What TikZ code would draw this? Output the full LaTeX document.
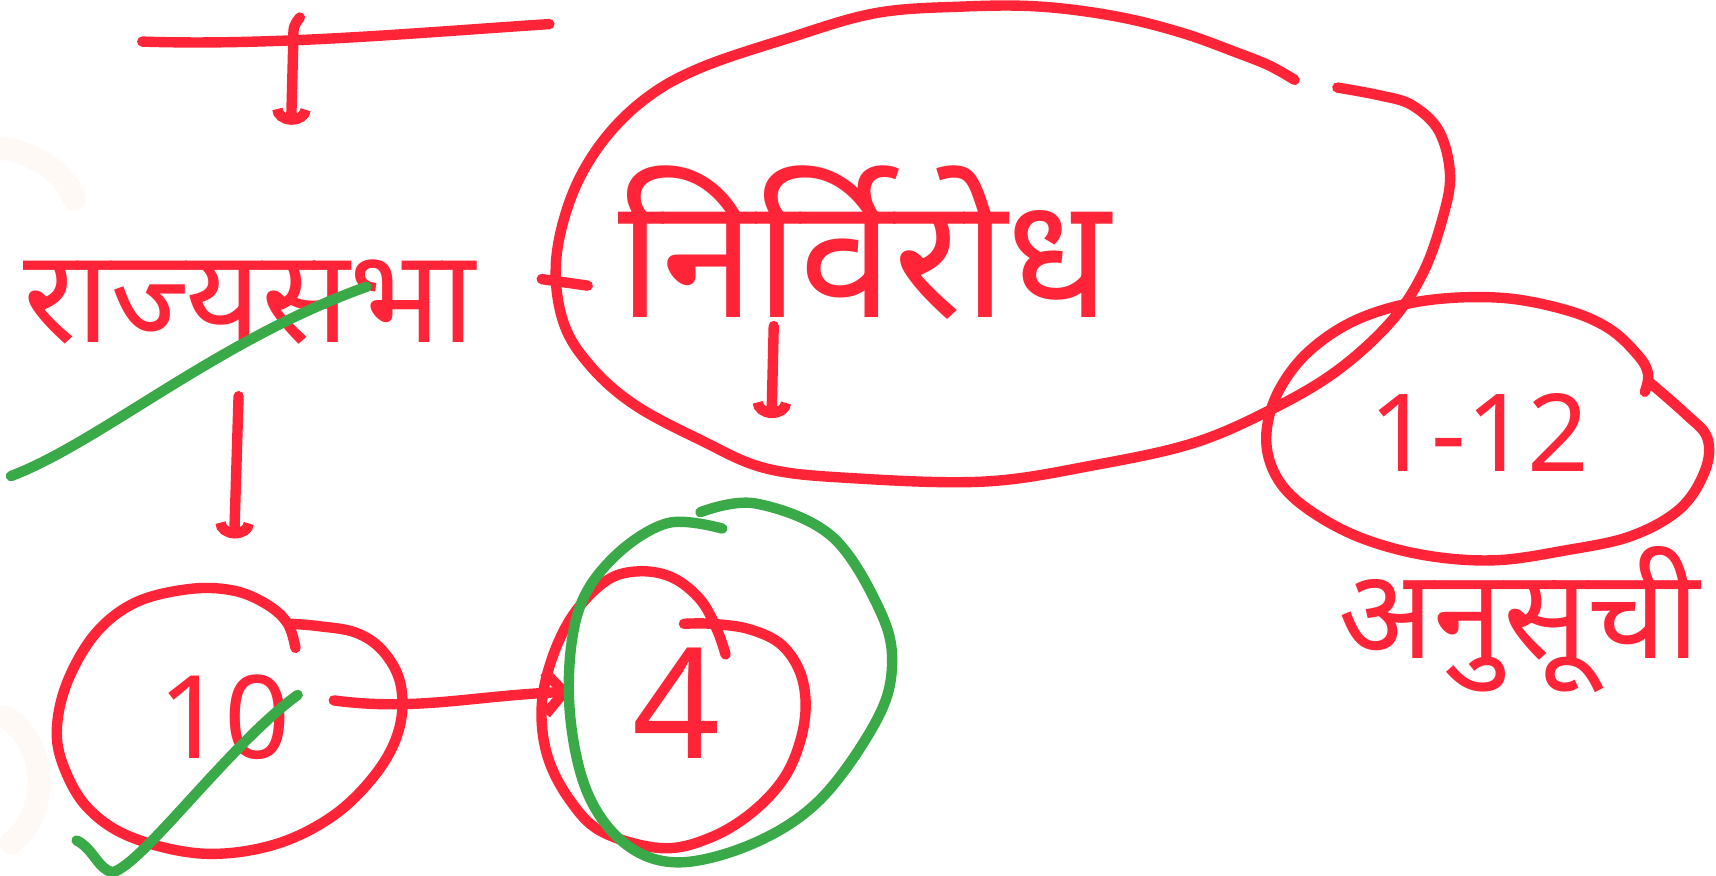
\documentclass[tikz,border=0pt]{standalone}
\usepackage{fontspec}
\setmainfont{Noto Sans}
\newfontfamily\deva[Script=Devanagari]{Noto Sans}
\usetikzlibrary{arrows.meta}
\definecolor{inkred}{RGB}{255,36,56}
\definecolor{inkgreen}{RGB}{58,170,72}
\definecolor{faintpeach}{RGB}{255,249,246}
\tikzset{
  redink/.style={draw=inkred, line width=2.7pt, line cap=round, line join=round},
  greenink/.style={draw=inkgreen, line width=2.7pt, line cap=round, line join=round},
  cuptip/.style={-{Arc Barb[length=4pt,width=10pt]}},
  barbtip/.style={-{Straight Barb[length=5pt,width=11pt]}},
  lbl/.style={text=inkred, inner sep=0pt, anchor=center},
}
\begin{document}
\begin{tikzpicture}[x=0.01cm,y=-0.01cm]
\fill[white] (0,0) rectangle (1568,800);
\useasboundingbox (0,0) rectangle (1568,800);

% faint background marks
\draw[faintpeach, line width=6pt, line cap=round] (0,135) .. controls (35,140) and (60,160) .. (68,182);
\draw[faintpeach, line width=6pt, line cap=round] (5,655) .. controls (45,680) and (45,745) .. (10,770);

% text nodes
\node[lbl, font=\deva\fontsize{34}{40}\selectfont] (rs) at (228,276) {राज्यसभा};
\node[lbl, font=\deva\fontsize{44}{52}\selectfont] (nr) at (790,222) {निर्विरोध};
\node[lbl, font=\fontsize{30}{36}\selectfont] (ten) at (205,655) {10};
\node[lbl, font=\fontsize{40}{46}\selectfont] (four) at (618,643) {4};
\node[lbl, font=\fontsize{28}{34}\selectfont] (sched) at (1352,395) {1-12};
\node[lbl, font=\deva\fontsize{32.5}{38}\selectfont] (anu) at (1388,566) {अनुसूची};

% top line and arrow
\coordinate (tlL) at (130,38);
\coordinate (tlR) at (502,22);
\draw[redink] (tlL) .. controls (250,42) and (380,30) .. (tlR);
\coordinate (a0s) at (274,16);
\coordinate (a0m) at (268,38);
\coordinate (a0e) at (266,114);
\draw[redink, cuptip] (a0s) .. controls (268,24) .. (a0m) -- (a0e);

% arrow from rajyasabha to circle 10
\coordinate (a1s) at (218,362);
\coordinate (a1e) at (214,492);
\draw[redink, cuptip] (a1s) -- (a1e);

% arrow below nirvirodh
\coordinate (a2s) at (707,298);
\coordinate (a2e) at (705,382);
\draw[redink, cuptip] (a2s) -- (a2e);

% dash between rajyasabha and big ellipse
\coordinate (dL) at (495,255);
\coordinate (dR) at (537,261);
\draw[redink] (dL) -- (dR);

% big ellipse around nirvirodh
\draw[redink] plot[smooth, tension=0.6] coordinates {
 (1183,73) (1160,60) (1130,48) (1080,30) (1020,15) (950,6) (880,6) (800,12)
 (720,35) (640,62) (590,90) (550,130) (522,180) (508,240) (515,295) (540,335)
 (580,370) (640,402) (700,428) (780,437) (900,440) (1000,425) (1090,405)
 (1160,375) (1220,340) (1270,295) (1300,250) (1318,200) (1325,160) (1315,120)
 (1290,96) (1260,87) (1222,80)};

% ellipse around 1-12
\draw[redink] plot[smooth, tension=0.6] coordinates {
 (1503,358) (1506,342) (1497,325) (1470,300) (1430,283) (1370,272) (1300,275)
 (1240,292) (1195,322) (1167,360) (1157,400) (1166,435) (1192,463) (1240,490)
 (1300,507) (1365,512) (1430,503) (1490,490) (1535,465) (1558,430) (1560,400)
 (1540,378) (1508,350)};

% circle around 10
\draw[redink] plot[smooth, tension=0.6] coordinates {
 (270,592) (263,570) (245,553) (215,540) (175,538) (125,550) (88,578) (62,622)
 (52,665) (58,700) (80,738) (120,765) (185,780) (250,772) (305,745) (345,705)
 (365,665) (366,625) (350,595) (325,578) (290,572) (265,570)};

% circle around 4
\draw[redink] plot[smooth, tension=0.6] coordinates {
 (663,598) (655,575) (640,548) (615,528) (585,522) (555,530) (525,560) (505,600)
 (495,645) (500,690) (520,730) (550,760) (605,775) (650,765) (690,740) (720,705)
 (735,660) (733,620) (715,590) (685,575) (650,570) (625,570)};

% arrow 10 -> 4
\coordinate (c10e) at (305,640);
\coordinate (c4w) at (522,632);
\draw[redink, barbtip] (c10e) .. controls (380,650) and (430,636) .. (c4w);

% green strokes
\draw[greenink] (10,435) .. controls (90,405) and (200,310) .. (335,262);
\draw[greenink] (70,768) .. controls (85,775) and (90,795) .. (103,797)
  .. controls (130,790) and (210,680) .. (272,635);
\draw[greenink] plot[smooth, tension=0.6] coordinates {
 (640,468) (690,460) (760,490) (805,560) (815,610) (800,660) (750,730) (690,770)
 (620,788) (570,770) (535,720) (520,640) (528,560) (560,510) (610,478) (660,483)};
\end{tikzpicture}
\end{document}
